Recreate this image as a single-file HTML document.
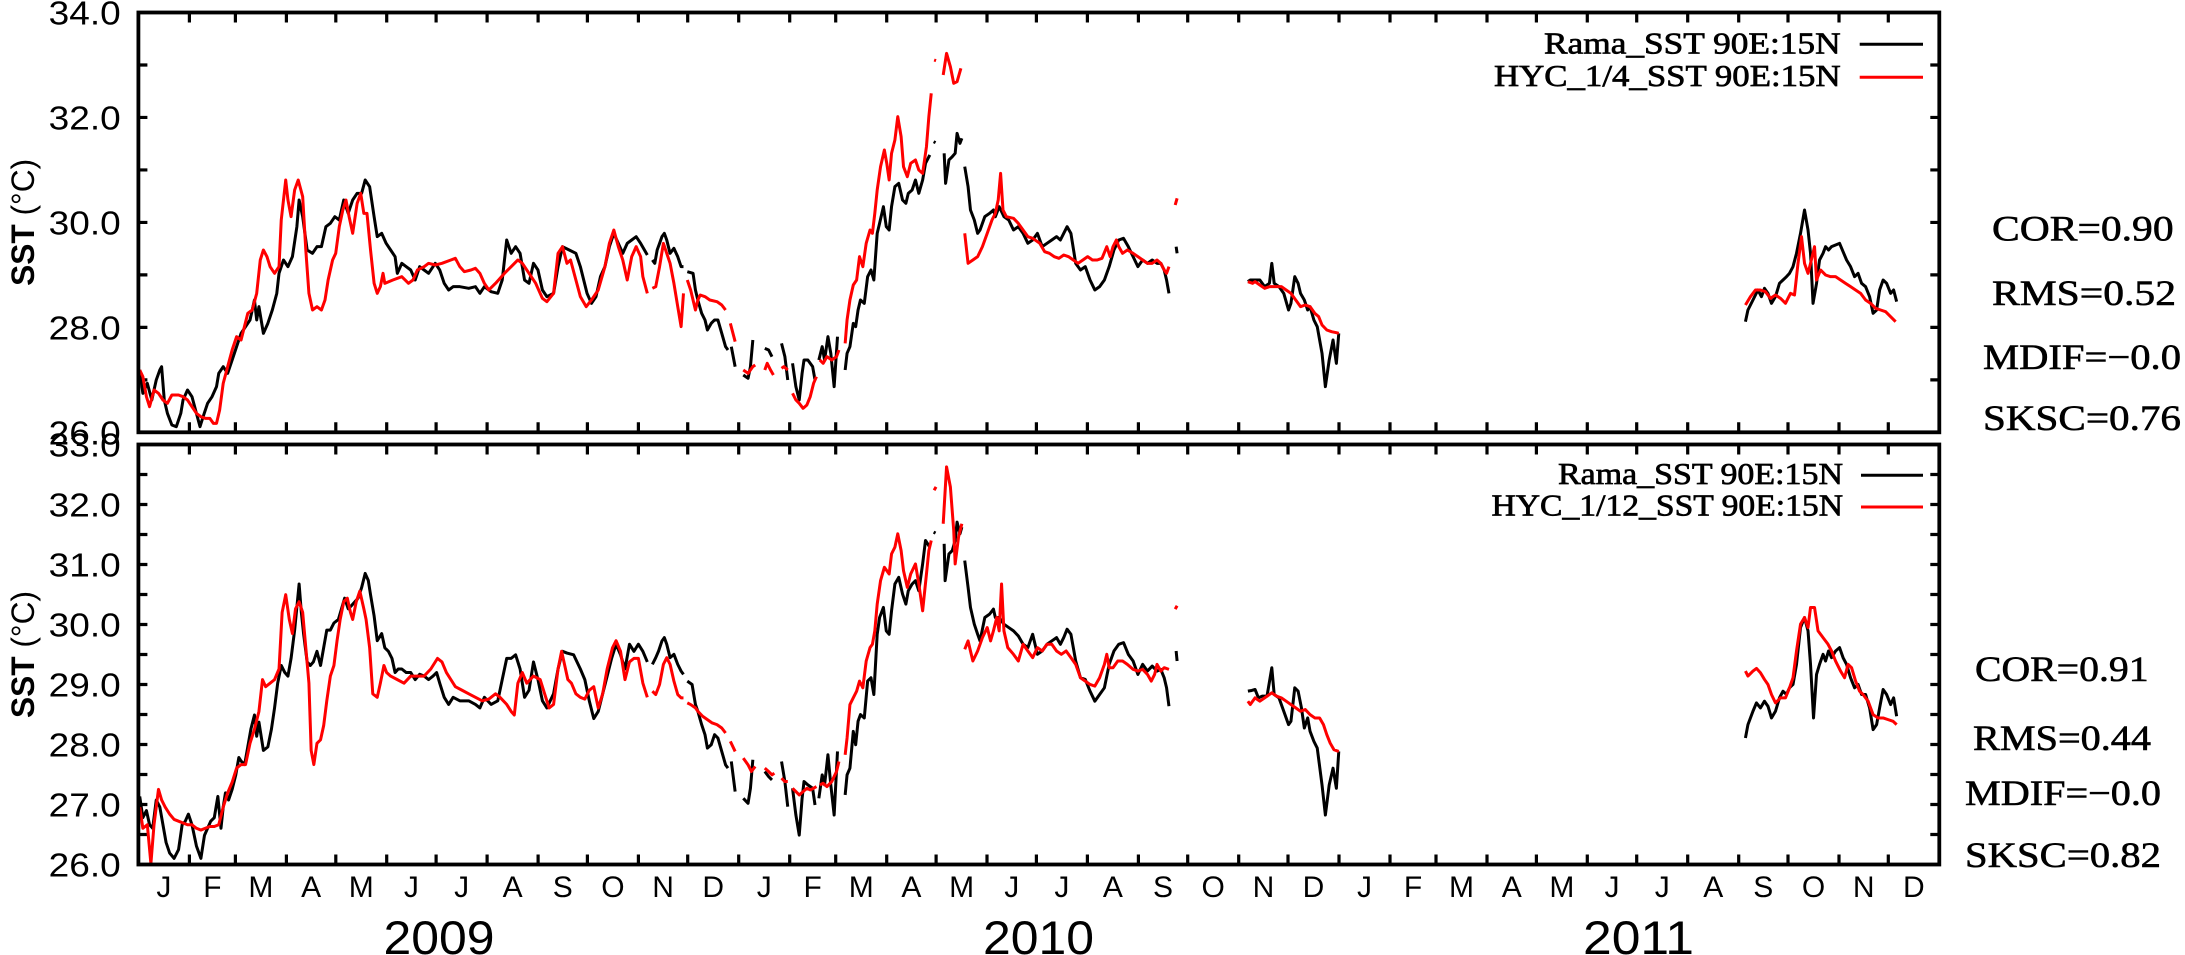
<!DOCTYPE html>
<html><head><meta charset="utf-8"><style>
html,body{margin:0;padding:0;background:#fff;}
svg{display:block;}
.ax{font-family:"Liberation Sans",sans-serif;fill:#000;}
.sf{font-family:"Liberation Serif",serif;fill:#000;}
</style></head><body>
<svg width="2185" height="955" viewBox="0 0 2185 955" xmlns="http://www.w3.org/2000/svg">
<rect width="2185" height="955" fill="#fff"/>
<defs>
<clipPath id="ct"><rect x="138" y="12" width="1801" height="421"/></clipPath>
<clipPath id="cb"><rect x="138" y="444" width="1801" height="421"/></clipPath>
<path id="xt" d="M189.4 0v10M235.4 0v10M286.4 0v10M335.8 0v10M386.7 0v10M436.1 0v10M487.1 0v10M538.1 0v10M587.4 0v10M638.4 0v10M687.7 0v10M738.7 0v10M789.7 0v10M835.7 0v10M886.7 0v10M936.1 0v10M987 0v10M1036.4 0v10M1087.4 0v10M1138.4 0v10M1187.7 0v10M1238.7 0v10M1288 0v10M1339 0v10M1390 0v10M1436 0v10M1487 0v10M1536.4 0v10M1587.3 0v10M1636.7 0v10M1687.7 0v10M1738.7 0v10M1788 0v10M1839 0v10M1888.3 0v10" stroke="#000" stroke-width="3.2" fill="none"/>
<path id="ytt" d="M138.4 64.98h9M138.4 117.46h9M138.4 169.94h9M138.4 222.42h9M138.4 274.9h9M138.4 327.38h9M138.4 379.86h9" stroke="#000" stroke-width="3.2" fill="none"/>
<path id="ytb" d="M138.4 474.5h9M138.4 504.5h9M138.4 534.5h9M138.4 564.5h9M138.4 594.5h9M138.4 624.5h9M138.4 654.5h9M138.4 684.5h9M138.4 714.5h9M138.4 744.5h9M138.4 774.5h9M138.4 804.5h9M138.4 834.5h9" stroke="#000" stroke-width="3.2" fill="none"/>
</defs>

<!-- ticks -->
<use href="#xt" transform="translate(0,12.5)"/>
<use href="#xt" transform="translate(0,432.3) scale(1,-1)"/>
<use href="#xt" transform="translate(0,444.5)"/>
<use href="#xt" transform="translate(0,864.5) scale(1,-1)"/>
<use href="#ytt"/>
<use href="#ytt" transform="translate(2077.7,0) scale(-1,1)"/>
<use href="#ytb"/>
<use href="#ytb" transform="translate(2077.7,0) scale(-1,1)"/>

<!-- TOP PANEL DATA -->
<g clip-path="url(#ct)" fill="none" stroke-linejoin="round" stroke-linecap="butt">
<g transform="translate(0,0) scale(0.44643,0.33333)">
<path vector-effect="non-scaling-stroke" stroke="#000" stroke-width="3" d="M313,1110 L320,1180 330,1150 340,1200 350,1140 358,1110 362,1100 368,1200 375,1240 385,1275 395,1280 405,1240 410,1200 420,1170 430,1190 440,1240 448,1280 455,1250 465,1210 475,1190 485,1160 490,1120 500,1100 510,1120 520,1080 530,1040 540,1000 550,980 560,960 570,900 575,960 580,920 590,1000 600,970 610,930 620,880 625,820 635,780 645,800 655,770 665,680 670,600 678,650 688,750 700,760 710,740 720,740 730,680 740,670 750,650 760,660 770,600 780,640 790,600 800,580 810,580 818,540 828,560 838,650 845,710 855,700 865,730 875,750 885,770 890,820 900,790 910,800 920,810 930,840 940,800 950,810 960,820 975,790 985,810 995,850 1005,870 1015,860 1030,860 1050,865 1065,860 1075,880 1085,860 1100,875 1115,880 1125,840 1135,720 1145,760 1155,740 1165,760 1175,840 1185,850 1195,790 1205,810 1215,870 1225,890 1240,880 1250,800 1260,740 1275,750 1290,760 1300,800 1315,880 1325,910 1335,890 1345,830 1355,800 1365,740 1375,700 1385,730 1395,760 1405,730 1415,720 1425,710 1435,730 1450,765"/>
<path vector-effect="non-scaling-stroke" stroke="#f00" stroke-width="3" d="M313,1110 L320,1130 328,1190 335,1220 345,1170 355,1180 365,1200 375,1210 385,1185 400,1185 410,1190 420,1200 430,1220 440,1240 450,1250 460,1255 470,1255 478,1270 485,1270 492,1230 500,1150 510,1100 520,1050 530,1010 540,1020 555,940 565,930 575,880 583,780 590,750 598,770 605,800 615,820 625,800 630,660 640,540 645,600 652,650 660,570 668,540 678,590 685,750 692,880 700,930 710,920 720,930 728,900 735,840 745,780 752,760 760,680 768,630 775,600 782,650 790,700 800,610 808,580 815,640 822,640 830,750 838,850 845,880 852,860 858,820 862,850 880,840 900,830 915,850 925,840 935,810 950,800 960,790 975,795 990,790 1010,780 1020,775 1030,800 1040,815 1055,810 1065,805 1075,820 1085,850 1095,870 1110,850 1130,820 1145,800 1160,780 1170,790 1185,820 1200,850 1215,895 1225,905 1240,880 1250,760 1260,740 1270,790 1278,780 1290,840 1300,890 1313,920 1325,900 1340,870 1355,800 1365,730 1375,690 1385,740 1395,780 1405,840 1415,770 1425,740 1435,770 1440,830 1450,880"/>
</g>
<g transform="translate(650,0) scale(0.47831,0.33333)">
<path vector-effect="non-scaling-stroke" stroke="#000" stroke-width="3" d="M5,780 L10,790 15,750 20,730 25,710 30,700 35,720 42,760 50,745 58,770 65,800 70,800 M78,815 L90,820 95,870 100,900 108,940 115,960 120,990 128,970 135,960 142,960 150,1000 158,1040 163,1050 M170,1040 L178,1100 M195,1125 L205,1135 210,1100 215,1020 M240,1045 L248,1050 255,1070 M275,1030 L282,1070 288,1140 M298,1090 L305,1160 312,1200 318,1120 322,1080 330,1080 340,1100 345,1140 M353,1080 L360,1040 365,1080 372,1010 378,1060 385,1160 392,1010 M408,1110 L412,1060 418,1040 425,970 430,980 435,930 440,900 448,910 455,830 462,810 468,840 475,700 480,670 488,620 494,680 500,690 505,620 512,560 520,550 528,600 535,610 540,580 548,570 555,540 562,580 570,540 576,490 585,465 M593,425 L597,428 M615,460 L618,550 625,480 632,470 638,460 642,400 648,430 652,415 M658,500 L665,560 670,630 678,660 685,700 690,690 700,650 710,640 718,630 722,650 730,620 740,650 750,660 760,690 770,680 780,700 790,730 800,720 810,700 820,740 830,730 840,720 850,710 858,720 865,700 872,680 880,700 890,790 900,810 910,800 920,840 930,870 940,860 950,840 960,800 970,750 980,720 990,715 1000,740 1010,770 1020,800 1030,780 1040,790 1050,780 1060,790 1068,790 1075,810 1080,840 1085,880 M1100,740 L1102,760 M1250,845 L1255,840 1265,840 1275,840 1285,860 1295,850 1300,790 1305,850 1315,860 1325,880 1335,930 1340,910 1348,830 1355,850 1360,880 1368,900 1375,930 1380,920 1388,960 1395,980 1405,1060 1412,1160 1420,1080 1428,1020 1435,1090 1440,1000"/>
<path vector-effect="non-scaling-stroke" stroke="#f00" stroke-width="3" d="M5,865 L12,860 20,800 28,730 35,760 42,790 50,850 58,920 65,980 70,880 M78,840 L85,870 95,930 100,900 105,885 115,890 125,900 140,905 150,915 158,930 M168,970 L178,1025 M195,1110 L205,1120 215,1100 220,1095 M240,1110 L245,1090 252,1110 258,1125 M275,1105 L280,1100 288,1110 M298,1180 L305,1200 312,1210 320,1225 328,1215 335,1190 342,1150 348,1130 M355,1080 L362,1090 370,1070 380,1080 390,1070 395,1050 M408,1030 L412,960 418,900 425,855 432,840 438,770 445,800 452,730 460,690 465,700 470,640 475,570 482,500 490,450 495,490 500,540 505,460 512,420 518,350 525,410 530,500 538,530 545,490 555,480 562,510 570,520 578,440 583,350 588,280 M594,180 L598,182 M613,225 L620,160 628,200 635,250 642,245 650,205 M658,700 L665,790 675,780 685,770 695,740 705,700 715,660 722,640 728,600 733,520 738,630 745,650 760,655 770,670 780,690 790,710 800,715 815,730 825,755 835,760 845,770 855,775 865,765 875,770 885,780 895,790 905,780 915,770 925,780 935,780 945,775 955,740 962,770 968,740 975,720 980,740 988,760 998,750 1010,760 1020,770 1030,780 1040,790 1050,790 1060,780 1068,790 1075,810 1080,820 1085,800 M1098,615 L1102,595 M1250,845 L1260,850 1265,845 1275,855 1285,865 1295,860 1310,860 1320,860 1330,870 1340,880 1350,900 1360,920 1370,915 1380,920 1390,940 1398,950 1405,975 1415,990 1425,995 1435,998 1440,1000"/>
</g>
<g transform="translate(1400,0) scale(0.50064,0.33333)">
<path vector-effect="non-scaling-stroke" stroke="#000" stroke-width="3" d="M690,965 L695,930 705,900 715,870 722,890 728,865 735,880 742,910 750,890 758,850 765,840 772,830 778,820 785,800 792,760 800,700 808,630 815,690 820,760 825,910 832,850 838,780 845,760 850,740 856,750 862,740 870,735 878,730 885,755 892,780 900,800 908,830 915,820 922,850 930,860 938,890 945,940 952,930 958,870 965,840 972,850 980,880 986,870 992,905"/>
<path vector-effect="non-scaling-stroke" stroke="#f00" stroke-width="3" d="M690,915 L700,890 710,870 720,870 730,875 740,895 750,885 760,895 770,910 780,880 788,885 795,790 802,710 808,790 815,820 820,790 828,740 832,840 840,810 850,825 860,830 870,830 880,840 890,850 900,860 910,870 920,880 930,900 940,910 950,925 960,930 970,935 980,950 990,965"/>
</g>
</g>

<!-- BOTTOM PANEL DATA -->
<g clip-path="url(#cb)" fill="none" stroke-linejoin="round" stroke-linecap="butt">
<g transform="translate(0,400) scale(0.44643,0.35395)">
<path vector-effect="non-scaling-stroke" stroke="#000" stroke-width="3" d="M313,1120 L320,1180 328,1160 335,1200 342,1210 350,1130 358,1150 365,1200 372,1250 380,1280 390,1295 400,1270 408,1200 415,1190 422,1170 430,1200 440,1260 450,1295 458,1230 465,1210 472,1190 480,1180 488,1120 495,1210 500,1150 505,1110 512,1130 520,1100 528,1060 535,1010 540,1020 548,1030 555,980 562,930 570,890 575,950 580,910 590,990 600,980 608,930 615,870 622,800 630,750 638,770 645,780 652,730 660,650 670,520 675,600 680,660 688,740 695,750 702,740 710,710 718,750 725,700 732,650 740,650 748,630 758,620 765,590 772,560 780,590 788,580 795,570 802,560 810,530 818,490 825,510 830,550 838,610 845,680 855,660 862,700 870,710 878,730 885,770 892,760 900,760 910,770 920,770 930,790 940,775 950,780 960,790 970,780 978,770 985,800 995,840 1005,860 1015,840 1030,850 1050,850 1065,860 1075,870 1085,840 1100,860 1115,850 1125,790 1135,730 1145,730 1155,720 1165,760 1175,840 1185,820 1195,740 1205,790 1215,850 1225,870 1240,830 1250,760 1260,710 1270,715 1285,720 1300,760 1310,790 1320,850 1330,900 1340,880 1350,830 1360,780 1370,730 1380,690 1390,720 1400,760 1410,690 1420,710 1430,690 1440,710 1450,740"/>
<path vector-effect="non-scaling-stroke" stroke="#f00" stroke-width="3" d="M313,1150 L320,1210 330,1200 338,1310 345,1200 355,1100 362,1130 370,1150 380,1170 390,1185 400,1190 410,1195 420,1200 430,1200 440,1210 450,1215 460,1210 470,1205 480,1205 490,1200 500,1150 510,1110 520,1080 530,1040 540,1030 550,1030 560,970 570,930 580,880 588,790 595,810 605,800 615,790 625,760 632,600 640,550 648,620 655,660 662,590 670,570 678,600 685,700 692,800 697,990 703,1030 710,970 718,960 725,920 732,850 740,780 748,750 755,680 762,620 770,570 778,560 785,600 790,620 798,570 806,540 815,590 820,620 828,700 835,830 845,840 852,800 860,750 866,770 875,780 890,790 905,800 920,780 935,780 950,780 965,760 980,730 990,740 1000,770 1010,790 1020,810 1035,820 1050,830 1065,840 1080,850 1095,845 1110,830 1120,840 1135,860 1145,880 1152,890 1160,800 1170,770 1180,800 1195,780 1210,790 1220,830 1230,870 1240,860 1250,760 1258,710 1265,750 1272,790 1280,800 1290,830 1300,840 1310,845 1320,820 1330,810 1340,870 1350,830 1360,760 1372,700 1380,680 1390,710 1400,790 1410,740 1420,730 1430,730 1440,800 1450,840"/>
</g>
<g transform="translate(650,430) scale(0.47831,0.33482)">
<path vector-effect="non-scaling-stroke" stroke="#000" stroke-width="3" d="M5,700 L12,680 18,660 25,630 30,620 35,640 42,680 50,670 58,700 65,720 70,730 M78,750 L88,760 95,820 100,840 108,880 115,910 120,950 128,940 135,910 142,920 150,960 158,1000 163,1010 M170,990 L178,1080 M195,1100 L205,1115 210,1070 215,985 M240,1020 L248,1035 255,1045 M275,990 L282,1050 288,1125 M298,1070 L305,1150 312,1210 318,1100 322,1050 330,1060 340,1070 345,1120 M353,1100 L360,1030 365,1060 372,970 378,1060 385,1150 392,960 M408,1090 L412,1030 418,1010 425,900 430,940 435,870 440,850 448,860 455,750 462,740 468,790 475,610 480,560 488,530 494,600 500,610 505,540 512,460 520,440 528,490 535,520 540,480 548,460 555,450 562,480 570,400 576,330 585,350 M593,305 L597,308 M615,340 L617,450 625,370 632,360 638,330 642,275 648,310 652,290 M658,390 L665,470 670,530 678,580 685,610 690,630 700,560 710,550 718,535 722,560 730,560 740,580 750,590 760,600 770,615 780,640 790,650 800,610 810,670 820,660 830,640 840,630 850,620 858,640 865,620 872,595 880,610 890,690 900,740 910,745 920,780 930,810 940,790 950,770 960,700 970,660 980,640 990,635 1000,670 1010,690 1020,730 1030,700 1040,720 1050,705 1060,720 1068,715 1075,740 1080,770 1085,825 M1100,660 L1102,690 M1250,780 L1258,778 1265,775 1272,800 1280,795 1290,795 1300,710 1305,790 1315,800 1325,840 1335,880 1340,870 1348,770 1355,780 1362,830 1368,890 1375,860 1380,900 1388,930 1395,950 1405,1060 1412,1150 1420,1060 1428,1010 1435,1070 1440,960"/>
<path vector-effect="non-scaling-stroke" stroke="#f00" stroke-width="3" d="M5,780 L12,790 20,760 28,700 35,680 42,700 50,750 58,790 65,800 70,800 M78,815 L85,820 95,830 100,840 110,855 120,865 130,875 140,880 150,890 158,905 M168,930 L178,960 M195,980 L205,1000 212,1020 220,1005 M240,1010 L248,1020 255,1030 260,1025 M275,1040 L282,1050 288,1050 M298,1070 L305,1080 312,1090 320,1080 328,1070 335,1075 342,1070 348,1065 M355,1060 L362,1055 370,1065 380,1050 390,1020 395,990 M408,970 L412,920 418,820 425,800 432,780 438,750 445,770 452,690 460,650 465,640 470,600 475,520 482,450 490,410 495,420 500,430 505,370 512,350 518,310 525,360 530,420 538,470 545,430 555,400 562,460 570,540 578,430 583,360 588,330 M594,180 L598,170 M613,280 L620,110 628,170 635,300 638,400 645,320 652,280 M658,655 L665,630 675,690 685,660 695,620 705,590 712,630 718,600 725,560 730,600 735,460 740,600 748,650 760,670 770,690 780,640 790,660 800,680 810,650 820,660 830,640 840,640 850,660 860,670 870,660 880,680 890,700 900,740 910,750 920,760 930,765 940,740 950,700 955,670 960,710 968,710 978,690 988,690 998,700 1010,715 1020,720 1030,715 1040,730 1048,750 1055,730 1060,700 1068,720 1075,710 1085,715 M1098,535 L1102,525 M1250,810 L1255,820 1265,800 1275,810 1285,800 1300,785 1310,795 1320,800 1330,810 1340,820 1350,830 1360,840 1370,835 1380,850 1390,860 1400,860 1408,880 1415,910 1422,935 1430,955 1440,960"/>
</g>
<g transform="translate(1400,430) scale(0.50064,0.33482)">
<path vector-effect="non-scaling-stroke" stroke="#000" stroke-width="3" d="M690,920 L695,880 705,840 712,815 720,830 728,810 735,825 742,860 750,840 758,800 765,780 772,790 778,770 785,760 792,700 800,590 808,560 815,600 820,700 826,860 832,730 838,700 845,670 850,690 856,660 862,680 870,660 878,650 885,680 892,700 900,740 908,770 915,760 922,790 930,790 938,830 945,895 952,880 958,830 965,775 972,790 980,820 986,800 992,855"/>
<path vector-effect="non-scaling-stroke" stroke="#f00" stroke-width="3" d="M690,720 L695,735 705,720 712,712 720,725 728,745 735,760 742,790 750,815 760,800 770,800 778,770 785,740 792,660 800,580 808,560 815,590 820,530 828,530 835,600 845,620 855,640 862,660 870,690 880,720 888,740 895,700 902,710 910,750 918,780 925,790 935,810 945,850 955,860 965,860 975,865 985,870 992,880"/>
</g>
</g>

<!-- frames -->
<rect x="138.4" y="12.5" width="1800.9" height="419.8" fill="none" stroke="#000" stroke-width="3.8"/>
<rect x="138.4" y="444.5" width="1800.9" height="420" fill="none" stroke="#000" stroke-width="3.8"/>

<!-- Y tick labels -->
<g class="ax" font-size="33" text-anchor="end">
<text x="120.7" y="24.5" textLength="72" lengthAdjust="spacingAndGlyphs">34.0</text>
<text x="120.7" y="129.5" textLength="72" lengthAdjust="spacingAndGlyphs">32.0</text>
<text x="120.7" y="234.4" textLength="72" lengthAdjust="spacingAndGlyphs">30.0</text>
<text x="120.7" y="339.4" textLength="72" lengthAdjust="spacingAndGlyphs">28.0</text>
<text x="120.7" y="444.3" textLength="72" lengthAdjust="spacingAndGlyphs">26.0</text>
<text x="120.7" y="456.5" textLength="72" lengthAdjust="spacingAndGlyphs">33.0</text>
<text x="120.7" y="516.5" textLength="72" lengthAdjust="spacingAndGlyphs">32.0</text>
<text x="120.7" y="576.5" textLength="72" lengthAdjust="spacingAndGlyphs">31.0</text>
<text x="120.7" y="636.5" textLength="72" lengthAdjust="spacingAndGlyphs">30.0</text>
<text x="120.7" y="696.5" textLength="72" lengthAdjust="spacingAndGlyphs">29.0</text>
<text x="120.7" y="756.5" textLength="72" lengthAdjust="spacingAndGlyphs">28.0</text>
<text x="120.7" y="816.5" textLength="72" lengthAdjust="spacingAndGlyphs">27.0</text>
<text x="120.7" y="876.5" textLength="72" lengthAdjust="spacingAndGlyphs">26.0</text>
</g>

<!-- Y axis titles -->
<text class="ax" font-size="32" text-anchor="middle" transform="translate(34,222.4) rotate(-90)" textLength="127" lengthAdjust="spacingAndGlyphs"><tspan font-weight="bold">SST</tspan> (°C)</text>
<text class="ax" font-size="32" text-anchor="middle" transform="translate(34,654.5) rotate(-90)" textLength="127" lengthAdjust="spacingAndGlyphs"><tspan font-weight="bold">SST</tspan> (°C)</text>

<!-- Month labels -->
<g class="ax" font-size="30" text-anchor="middle">
<text x="163.9" y="897">J</text><text x="212.4" y="897">F</text><text x="260.9" y="897">M</text><text x="311.1" y="897">A</text><text x="361.3" y="897">M</text><text x="411.4" y="897">J</text><text x="461.6" y="897">J</text><text x="512.6" y="897">A</text><text x="562.7" y="897">S</text><text x="612.9" y="897">O</text><text x="663.1" y="897">N</text><text x="713.2" y="897">D</text>
<text x="764.2" y="897">J</text><text x="812.7" y="897">F</text><text x="861.2" y="897">M</text><text x="911.4" y="897">A</text><text x="961.6" y="897">M</text><text x="1011.7" y="897">J</text><text x="1061.9" y="897">J</text><text x="1112.9" y="897">A</text><text x="1163" y="897">S</text><text x="1213.2" y="897">O</text><text x="1263.4" y="897">N</text><text x="1313.5" y="897">D</text>
<text x="1364.5" y="897">J</text><text x="1413" y="897">F</text><text x="1461.5" y="897">M</text><text x="1511.7" y="897">A</text><text x="1561.9" y="897">M</text><text x="1612" y="897">J</text><text x="1662.2" y="897">J</text><text x="1713.2" y="897">A</text><text x="1763.3" y="897">S</text><text x="1813.5" y="897">O</text><text x="1863.7" y="897">N</text><text x="1913.8" y="897">D</text>
</g>

<!-- Year labels -->
<g class="ax" font-size="47" text-anchor="middle">
<text x="439" y="954" textLength="111" lengthAdjust="spacingAndGlyphs">2009</text>
<text x="1038.5" y="954" textLength="111" lengthAdjust="spacingAndGlyphs">2010</text>
<text x="1638.5" y="954" textLength="111" lengthAdjust="spacingAndGlyphs">2011</text>
</g>

<!-- Legends -->
<g class="sf" font-size="31" text-anchor="end" stroke="#000" stroke-width="0.7">
<text x="1840.6" y="53.3" textLength="296.6" lengthAdjust="spacingAndGlyphs">Rama_SST 90E:15N</text>
<text x="1840.6" y="86" textLength="346.6" lengthAdjust="spacingAndGlyphs">HYC_1/4_SST 90E:15N</text>
<text x="1843" y="484" textLength="285" lengthAdjust="spacingAndGlyphs">Rama_SST 90E:15N</text>
<text x="1843" y="515.4" textLength="351.5" lengthAdjust="spacingAndGlyphs">HYC_1/12_SST 90E:15N</text>
</g>
<path d="M1859.7 44.3H1923" stroke="#000" stroke-width="3"/>
<path d="M1859.7 77.3H1923" stroke="#f00" stroke-width="3"/>
<path d="M1861 475.2H1923" stroke="#000" stroke-width="3"/>
<path d="M1861 507H1923" stroke="#f00" stroke-width="3"/>

<!-- Stats -->
<g class="sf" font-size="36" stroke="#000" stroke-width="0.6">
<text x="1992" y="240.7" textLength="181.6" lengthAdjust="spacingAndGlyphs">COR=0.90</text>
<text x="1992" y="305" textLength="184" lengthAdjust="spacingAndGlyphs">RMS=0.52</text>
<text x="1983" y="369" textLength="198" lengthAdjust="spacingAndGlyphs">MDIF=−0.0</text>
<text x="1983" y="430" textLength="198" lengthAdjust="spacingAndGlyphs">SKSC=0.76</text>
<text x="1975" y="681" textLength="173.6" lengthAdjust="spacingAndGlyphs">COR=0.91</text>
<text x="1973" y="750" textLength="178" lengthAdjust="spacingAndGlyphs">RMS=0.44</text>
<text x="1965" y="805" textLength="196" lengthAdjust="spacingAndGlyphs">MDIF=−0.0</text>
<text x="1965" y="867" textLength="196" lengthAdjust="spacingAndGlyphs">SKSC=0.82</text>
</g>
</svg>
</body></html>
